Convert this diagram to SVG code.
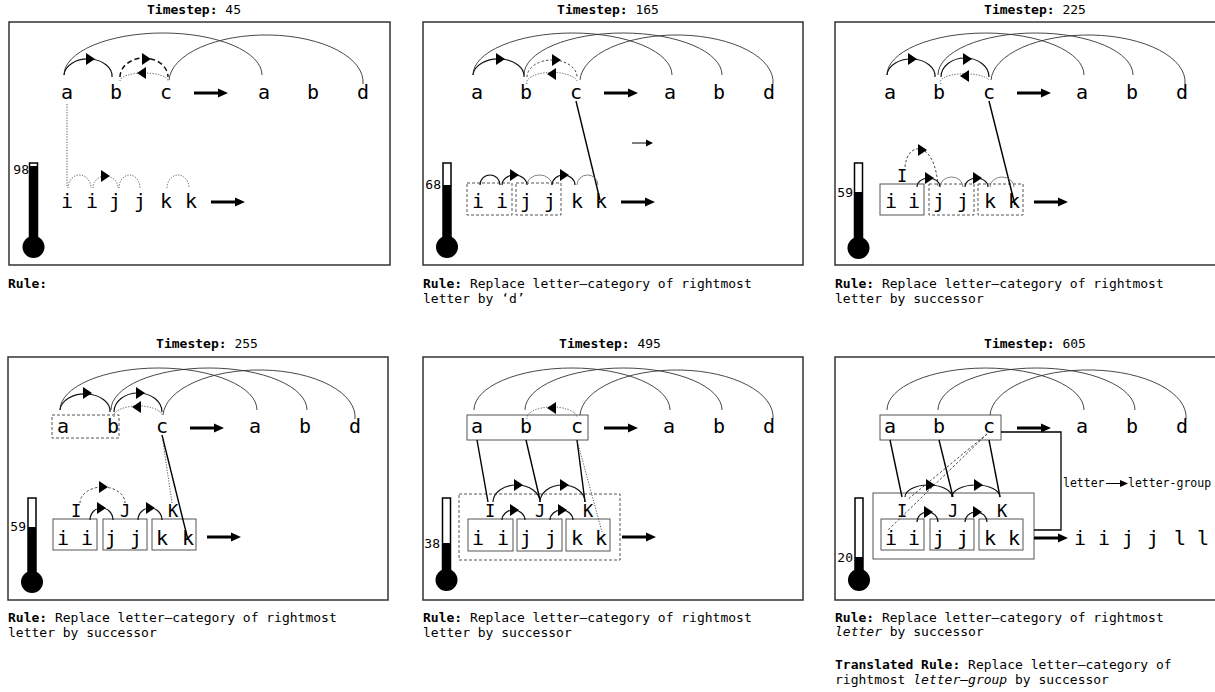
<svg xmlns="http://www.w3.org/2000/svg" xmlns:xlink="http://www.w3.org/1999/xlink" width="1215" height="692" viewBox="0 0 1215 692">
<style>
text{font-family:"DejaVu Sans Mono","Liberation Mono",monospace;fill:#000}
.tt{font-size:13px;text-anchor:middle}
.t{font-size:13px}
.tl{font-size:13px;text-anchor:end}
.L{font-size:20px;text-anchor:middle}
.G{font-size:17px;text-anchor:middle}
.sl{font-size:11.5px}
.frame{fill:none;stroke:#333;stroke-width:1.5}
.big{fill:none;stroke:#333;stroke-width:0.9}
.sm{fill:none;stroke:#111;stroke-width:1.2}
.thin{fill:none;stroke:#666;stroke-width:0.8}
.dash{fill:none;stroke:#111;stroke-width:1.5;stroke-dasharray:5 3}
.fdash{fill:none;stroke:#333;stroke-width:0.9;stroke-dasharray:2.5 2}
.dot{fill:none;stroke:#444;stroke-width:0.9;stroke-dasharray:1.2 1.5}
.box{fill:none;stroke:#555;stroke-width:1}
.dbox{fill:none;stroke:#555;stroke-width:1;stroke-dasharray:3 2}
.link{fill:none;stroke:#000;stroke-width:1.4}
.tube{fill:#fff;stroke:#000;stroke-width:1.5}
</style>
<defs>
<path id="ah" d="M-4,-6 L5,0 L-4,6 Z"/>
<path id="ahL" d="M4,-6 L-5,0 L4,6 Z"/>
<path id="ba" d="M0,-1.6 H24 V-4.5 L34,0 L24,4.5 V1.6 H0 Z"/>
</defs>

<!-- ===== Panel 1 ===== -->
<g id="panel1">
<text class="tt" x="194" y="14"><tspan font-weight="bold">Timestep:</tspan> 45</text>
<rect class="frame" x="9" y="22" width="381" height="243"/>
<g id="p1-strings">
<text class="L" y="99"><tspan x="67">a</tspan><tspan x="116">b</tspan><tspan x="166">c</tspan><tspan x="264">a</tspan><tspan x="313">b</tspan><tspan x="363">d</tspan></text>
<text class="L" y="208"><tspan x="67">i</tspan><tspan x="92">i</tspan><tspan x="115">j</tspan><tspan x="140">j</tspan><tspan x="166">k</tspan><tspan x="191">k</tspan></text>
<use href="#ba" x="194" y="93"/>
<use href="#ba" x="211" y="202"/>
</g>
<g id="p1-connectors">
<path class="big" d="M64,75 A99,42 0 0 1 262,75"/>
<path class="big" d="M169,80 A97,47 0 0 1 363,84"/>
<path class="sm" d="M64,75 A24,17 0 0 1 112,77"/><use href="#ah" x="90" y="59"/>
<path class="dash" d="M120,77 A24,19 0 0 1 168,77"/><use href="#ah" x="146" y="59"/>
<path class="dot" d="M120,81 A24,8 0 0 1 168,81"/><use href="#ahL" x="142" y="73"/>
<path class="dot" d="M67,104 V186"/>
<path class="dot" d="M68,188 A11.5,13 0 0 1 91,188"/>
<path class="dot" d="M93,188 A12.5,12 0 0 1 118,188"/><use href="#ah" x="105" y="176"/>
<path class="dot" d="M119,188 A10.5,13 0 0 1 140,188"/>
<path class="dot" d="M167,188 A11,13 0 0 1 189,188"/>
</g>
<g id="p1-thermo">
<rect class="tube" x="29.5" y="163" width="8" height="76"/>
<rect x="29.5" y="166" width="8" height="73" fill="#000"/>
<circle cx="33.5" cy="247" r="11" fill="#000"/>
<text class="tl" x="29" y="174">98</text>
</g>
<text class="t" x="8" y="288" font-weight="bold">Rule:</text>
</g>

<!-- ===== Panel 2 ===== -->
<g id="panel2">
<text class="tt" x="608" y="14"><tspan font-weight="bold">Timestep:</tspan> 165</text>
<rect class="frame" x="423" y="22" width="380" height="243"/>
<g id="p2-strings">
<text class="L" y="99"><tspan x="477">a</tspan><tspan x="526">b</tspan><tspan x="576">c</tspan><tspan x="670">a</tspan><tspan x="719">b</tspan><tspan x="769">d</tspan></text>
<rect class="dbox" x="467" y="183" width="45" height="32"/>
<rect class="dbox" x="516" y="183" width="45" height="32"/>
<text class="L" y="208"><tspan x="478">i</tspan><tspan x="502">i</tspan><tspan x="526">j</tspan><tspan x="550">j</tspan><tspan x="577">k</tspan><tspan x="601">k</tspan></text>
<use href="#ba" x="604" y="93"/>
<use href="#ba" x="621" y="202"/>
</g>
<g id="p2-connectors">
<path class="big" d="M473,75 A99.5,42 0 0 1 672,75"/>
<path class="big" d="M524,75 A99,42 0 0 1 722,75"/>
<path class="big" d="M580,80 A96.5,47 0 0 1 773,84"/>
<path class="sm" d="M473,75 A25.5,17 0 0 1 524,77"/><use href="#ah" x="500" y="59"/>
<path class="fdash" d="M527,77 A25,17 0 0 1 577,77"/><use href="#ah" x="556" y="60"/>
<path class="dot" d="M527,84 A25,10 0 0 1 577,81"/><use href="#ahL" x="552" y="74"/>
<path d="M632,143 H647" stroke="#000" stroke-width="1"/><path d="M646,139.5 L653,143 L646,146.5 Z"/>
<path class="link" d="M576,101 L600,200"/>
<path class="sm" d="M480,185 A10,10 0 0 1 500,185"/>
<path class="sm" d="M502,185 A12.5,10 0 0 1 527,185"/><use href="#ah" x="514" y="175"/>
<path class="thin" d="M527,185 A12.5,10 0 0 1 552,185"/>
<path class="sm" d="M552,185 A11.5,10 0 0 1 575,185"/><use href="#ah" x="564" y="175"/>
<path class="thin" d="M577,185 A10.5,10 0 0 1 598,185"/>
</g>
<g id="p2-thermo">
<rect class="tube" x="443" y="163" width="8" height="76"/>
<rect x="443" y="185" width="8" height="54" fill="#000"/>
<circle cx="447" cy="247" r="11" fill="#000"/>
<text class="tl" x="441" y="189">68</text>
</g>
<text class="t" x="423" y="288"><tspan font-weight="bold">Rule:</tspan> Replace letter–category of rightmost</text>
<text class="t" x="423" y="303">letter by ‘d’</text>
</g>

<!-- ===== Panel 3 ===== -->
<g id="panel3">
<text class="tt" x="1035" y="14"><tspan font-weight="bold">Timestep:</tspan> 225</text>
<rect class="frame" x="835" y="22" width="381" height="243"/>
<g id="p3-strings">
<text class="L" y="99"><tspan x="890">a</tspan><tspan x="939">b</tspan><tspan x="989">c</tspan><tspan x="1082">a</tspan><tspan x="1132">b</tspan><tspan x="1182">d</tspan></text>
<rect class="box" x="880" y="184" width="44" height="31"/>
<rect class="dbox" x="929" y="184" width="45" height="31"/>
<rect class="dbox" x="978" y="184" width="45" height="31"/>
<text class="G" x="902" y="182">I</text>
<text class="L" y="208"><tspan x="891">i</tspan><tspan x="914">i</tspan><tspan x="939">j</tspan><tspan x="963">j</tspan><tspan x="990">k</tspan><tspan x="1014">k</tspan></text>
<use href="#ba" x="1017" y="93"/>
<use href="#ba" x="1034" y="202"/>
</g>
<g id="p3-connectors">
<path class="big" d="M887,75 A98.5,42 0 0 1 1084,75"/>
<path class="big" d="M938,75 A97.5,42 0 0 1 1133,75"/>
<path class="big" d="M991,80 A97,47 0 0 1 1185,84"/>
<path class="sm" d="M887,75 A24,17 0 0 1 935,77"/><use href="#ah" x="912" y="59"/>
<path class="sm" d="M941,77 A24,19 0 0 1 989,77"/><use href="#ah" x="967" y="59"/>
<path class="dot" d="M941,84 A24,8 0 0 1 989,80"/><use href="#ahL" x="965" y="76"/>
<path class="link" d="M989,101 L1015,205"/>
<path class="fdash" d="M905,167 C907,140 936,140 938,188"/><use href="#ah" x="922" y="150"/>
<path class="sm" d="M917,187 A11.5,9 0 0 1 940,187"/><use href="#ah" x="929" y="178"/>
<path class="thin" d="M940,187 A11.5,10 0 0 1 963,187"/>
<path class="sm" d="M965,187 A11.5,9 0 0 1 988,187"/><use href="#ah" x="977" y="178"/>
<path class="thin" d="M990,187 A12,10 0 0 1 1014,187"/>
</g>
<g id="p3-thermo">
<rect class="tube" x="854.5" y="163" width="8" height="76"/>
<rect x="854.5" y="192" width="8" height="47" fill="#000"/>
<circle cx="858.5" cy="248" r="11" fill="#000"/>
<text class="tl" x="853" y="197">59</text>
</g>
<text class="t" x="835" y="288"><tspan font-weight="bold">Rule:</tspan> Replace letter–category of rightmost</text>
<text class="t" x="835" y="303">letter by successor</text>
</g>

<!-- ===== Panel 4 ===== -->
<g id="panel4" transform="translate(0,335)">
<text class="tt" x="207" y="13"><tspan font-weight="bold">Timestep:</tspan> 255</text>
<rect class="frame" x="8" y="22" width="380" height="243"/>
<g id="p4-strings">
<rect class="dbox" x="52" y="80" width="67" height="23"/>
<text class="L" y="98"><tspan x="63">a</tspan><tspan x="113">b</tspan><tspan x="162">c</tspan><tspan x="255">a</tspan><tspan x="305">b</tspan><tspan x="355">d</tspan></text>
<rect class="box" x="53" y="184" width="44" height="31"/>
<rect class="box" x="103" y="184" width="44" height="31"/>
<rect class="box" x="152" y="184" width="44" height="31"/>
<text class="G" y="182"><tspan x="76">I</tspan><tspan x="125">J</tspan><tspan x="173">K</tspan></text>
<text class="L" y="210"><tspan x="63">i</tspan><tspan x="87">i</tspan><tspan x="111">j</tspan><tspan x="136">j</tspan><tspan x="162">k</tspan><tspan x="188">k</tspan></text>
<use href="#ba" x="190" y="93"/>
<use href="#ba" x="207" y="202"/>
</g>
<g id="p4-connectors">
<path class="big" d="M60,75 A98.5,42 0 0 1 257,75"/>
<path class="big" d="M111,75 A98,42 0 0 1 307,75"/>
<path class="big" d="M163,80 A96,47 0 0 1 355,84"/>
<path class="sm" d="M60,75 A25,17 0 0 1 110,77"/><use href="#ah" x="87" y="58"/>
<path class="sm" d="M114,77 A24,19 0 0 1 162,77"/><use href="#ah" x="140" y="58"/>
<path class="dot" d="M114,82 A24,10 0 0 1 162,80"/><use href="#ahL" x="137" y="72"/>
<path class="link" d="M162,100 L188,205"/>
<path class="dot" d="M162,100 L172,168"/>
<path class="fdash" d="M80,168 A22.5,16 0 0 1 125,168"/><use href="#ah" x="103" y="152"/>
<path class="sm" d="M90,185 A11.5,12 0 0 1 113,185"/><use href="#ah" x="101" y="173"/>
<path class="sm" d="M138,185 A12,12 0 0 1 162,185"/><use href="#ah" x="150" y="173"/>
</g>
<g id="p4-thermo">
<rect class="tube" x="28" y="163" width="8" height="76"/>
<rect x="28" y="192" width="8" height="47" fill="#000"/>
<circle cx="32" cy="247" r="11" fill="#000"/>
<text class="tl" x="26" y="196">59</text>
</g>
<text class="t" x="8" y="287"><tspan font-weight="bold">Rule:</tspan> Replace letter–category of rightmost</text>
<text class="t" x="8" y="302">letter by successor</text>
</g>

<!-- ===== Panel 5 ===== -->
<g id="panel5" transform="translate(0,335)">
<text class="tt" x="610" y="13"><tspan font-weight="bold">Timestep:</tspan> 495</text>
<rect class="frame" x="423" y="22" width="380" height="243"/>
<g id="p5-strings">
<rect class="box" x="467" y="80" width="121" height="25"/>
<text class="L" y="98"><tspan x="477">a</tspan><tspan x="526">b</tspan><tspan x="577">c</tspan><tspan x="669">a</tspan><tspan x="719">b</tspan><tspan x="769">d</tspan></text>
<rect class="dbox" x="459" y="159" width="161" height="66"/>
<rect class="box" x="468" y="184" width="45" height="32"/>
<rect class="box" x="517" y="184" width="45" height="32"/>
<rect class="box" x="566" y="184" width="44" height="32"/>
<text class="G" y="182"><tspan x="490">I</tspan><tspan x="540">J</tspan><tspan x="588">K</tspan></text>
<text class="L" y="210"><tspan x="478">i</tspan><tspan x="503">i</tspan><tspan x="526">j</tspan><tspan x="551">j</tspan><tspan x="577">k</tspan><tspan x="601">k</tspan></text>
<use href="#ba" x="604" y="93"/>
<use href="#ba" x="622" y="202"/>
</g>
<g id="p5-connectors">
<path class="big" d="M474,75 A98,42 0 0 1 670,75"/>
<path class="big" d="M525,75 A98.5,42 0 0 1 722,75"/>
<path class="big" d="M580,80 A96.5,47 0 0 1 773,84"/>
<path class="dot" d="M527,84 A25,11 0 0 1 577,82"/><use href="#ahL" x="552" y="73"/>
<path class="link" d="M477,105 L488,167"/>
<path class="link" d="M526,105 L540,165"/>
<path class="link" d="M577,105 L585,167"/>
<path class="dot" d="M577,105 L602,197"/>
<path class="sm" d="M493,167 A23.5,17 0 0 1 540,167"/><use href="#ah" x="518" y="150"/>
<path class="sm" d="M540,167 A22.5,17 0 0 1 585,167"/><use href="#ah" x="564" y="150"/>
<path class="sm" d="M502,185 A11.5,10 0 0 1 525,185"/><use href="#ah" x="514" y="175"/>
<path class="sm" d="M550,185 A11.5,10 0 0 1 573,185"/><use href="#ah" x="562" y="175"/>
</g>
<g id="p5-thermo">
<rect class="tube" x="442.5" y="163" width="8" height="76"/>
<rect x="442.5" y="208" width="8" height="31" fill="#000"/>
<circle cx="446.5" cy="245" r="11" fill="#000"/>
<text class="tl" x="440" y="213">38</text>
</g>
<text class="t" x="423" y="287"><tspan font-weight="bold">Rule:</tspan> Replace letter–category of rightmost</text>
<text class="t" x="423" y="302">letter by successor</text>
</g>

<!-- ===== Panel 6 ===== -->
<g id="panel6" transform="translate(0,335)">
<text class="tt" x="1035" y="13"><tspan font-weight="bold">Timestep:</tspan> 605</text>
<rect class="frame" x="835" y="22" width="381" height="243"/>
<g id="p6-strings">
<rect class="box" x="880" y="80" width="121" height="25"/>
<text class="L" y="98"><tspan x="890">a</tspan><tspan x="939">b</tspan><tspan x="989">c</tspan><tspan x="1082">a</tspan><tspan x="1132">b</tspan><tspan x="1182">d</tspan></text>
<rect class="box" x="873" y="158" width="161" height="66"/>
<rect class="box" x="881" y="184" width="43" height="31"/>
<rect class="box" x="930" y="184" width="44" height="31"/>
<rect class="box" x="979" y="184" width="44" height="31"/>
<text class="G" y="182"><tspan x="902">I</tspan><tspan x="953">J</tspan><tspan x="1002">K</tspan></text>
<text class="L" y="210"><tspan x="891">i</tspan><tspan x="914">i</tspan><tspan x="939">j</tspan><tspan x="963">j</tspan><tspan x="990">k</tspan><tspan x="1014">k</tspan></text>
<text class="L" y="210"><tspan x="1080">i</tspan><tspan x="1104">i</tspan><tspan x="1128">j</tspan><tspan x="1153">j</tspan><tspan x="1180">l</tspan><tspan x="1203">l</tspan></text>
<use href="#ba" x="1017" y="93"/>
<use href="#ba" x="1034" y="203"/>
</g>
<g id="p6-connectors">
<path class="big" d="M887,75 A98.5,42 0 0 1 1084,75"/>
<path class="big" d="M938,75 A98.5,42 0 0 1 1135,75"/>
<path class="big" d="M990,80 A98,47 0 0 1 1186,84"/>
<path class="link" d="M890,105 L902,162"/>
<path class="link" d="M939,105 L953,162"/>
<path class="link" d="M989,105 L1000,162"/>
<path class="fdash" d="M987,99 L907,165"/>
<path class="fdash" d="M987,99 L888,195"/>
<path class="sm" d="M905,162 A23.5,12 0 0 1 952,162"/><use href="#ah" x="930" y="150"/>
<path class="sm" d="M952,162 A24,12 0 0 1 1000,162"/><use href="#ah" x="978" y="150"/>
<path class="sm" d="M917,187 A10.5,10 0 0 1 938,187"/><use href="#ah" x="928" y="177"/>
<path class="sm" d="M965,187 A11,10 0 0 1 987,187"/><use href="#ah" x="977" y="177"/>
<path fill="none" stroke="#000" stroke-width="1.3" d="M1001,97 H1061 V195 H1034"/>
<text class="sl" x="1063" y="152">letter</text>
<path d="M1106,148.5 H1121" stroke="#000" stroke-width="1"/><path d="M1120,145 L1128,148.5 L1120,152 Z"/>
<text class="sl" x="1128" y="152">letter-group</text>
</g>
<g id="p6-thermo">
<rect class="tube" x="855" y="163" width="8" height="76"/>
<rect x="855" y="222" width="8" height="17" fill="#000"/>
<circle cx="859" cy="245" r="11" fill="#000"/>
<text class="tl" x="853" y="227">20</text>
</g>
<text class="t" x="835" y="287"><tspan font-weight="bold">Rule:</tspan> Replace letter–category of rightmost</text>
<text class="t" x="835" y="301"><tspan font-style="italic">letter</tspan> by successor</text>
<text class="t" x="835" y="334"><tspan font-weight="bold">Translated Rule:</tspan> Replace letter–category of</text>
<text class="t" x="835" y="349">rightmost <tspan font-style="italic">letter–group</tspan> by successor</text>
</g>
</svg>
